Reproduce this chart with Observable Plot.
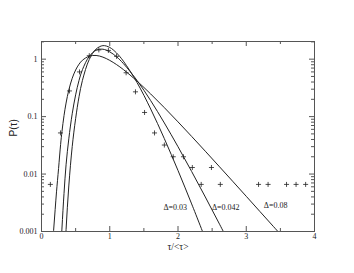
<!DOCTYPE html>
<html>
<head>
<meta charset="utf-8">
<script src="https://cdn.jsdelivr.net/npm/d3@7"></script>
<script src="https://cdn.jsdelivr.net/npm/@observablehq/plot@0.6"></script>
<style>
  html, body { margin: 0; padding: 0; background: #fff; }
</style>
</head>
<body>
<div id="chart"></div>
<script>
// ---- data ----
const curveNames = ["Δ=0.03", "Δ=0.042", "Δ=0.08"];

const curveA_x = [0.33,0.36,0.4,0.45,0.5,0.55,0.6,0.7,0.8,0.9,1.0,1.1,1.2,1.4,1.6,1.8,2.0,2.2,2.4];
const curveA_y = [2.19e-4,1.08e-3,6.2e-3,0.030,0.0922,0.222,0.428,0.99,1.50,1.72,1.60,1.28,0.923,0.391,0.1357,0.0413,0.01153,3.02e-3,7.53e-4];

const curveB_x = [0.28,0.3,0.33,0.36,0.4,0.45,0.5,0.55,0.6,0.7,0.8,0.9,1.0,1.1,1.2,1.4,1.6,1.8,2.0,2.2,2.4,2.6,2.8];
const curveB_y = [3.8e-4,1.15e-3,4.6e-3,0.0145,0.041,0.112,0.2391,0.428,0.657,1.12,1.43,1.49,1.34,1.10,0.838,0.426,0.1897,0.0775,0.0299,0.01108,3.99e-3,1.404e-3,4.86e-4];

const curveC_x = [0.16,0.18,0.2,0.22,0.25,0.28,0.3,0.33,0.36,0.4,0.45,0.5,0.55,0.6,0.7,0.8,0.9,1.0,1.1,1.2,1.4,1.6,1.8,2.0,2.2,2.4,2.6,2.8,3.0,3.2,3.4,3.6];
const curveC_y = [5.6e-4,1.15e-3,2.4e-3,4.9e-3,0.0125,0.0328,0.0551,0.1041,0.1722,0.2895,0.4645,0.6476,0.8177,0.9583,1.127,1.16,1.085,0.9524,0.804,0.659,0.415,0.2477,0.1432,0.0810,0.0452,0.02498,0.01373,7.51e-3,4.10e-3,2.23e-3,1.215e-3,6.61e-4];

const pointsX = [0.13,0.278,0.41,0.557,0.70,0.84,0.98,1.10,1.24,1.377,1.51,1.656,1.80,1.93,2.08,2.21,2.34,2.49,2.62,3.18,3.32,3.59,3.73,3.87];
const pointsY = [0.0066,0.052,0.28,0.6,1.15,1.45,1.42,1.12,0.58,0.27,0.118,0.052,0.032,0.02,0.02,0.013,0.0066,0.013,0.0066,0.0066,0.0066,0.0066,0.0066,0.0066];

const labelX = [1.96, 2.70, 3.43];
const labelY = [0.0026, 0.0026, 0.0028];

const xTicks = [0, 1, 2, 3, 4];
const xMinorTicks = [0.5, 1.5, 2.5, 3.5];
const yTicks = [0.001, 0.01, 0.1, 1];
const yTickLabels = ["0.001", "0.01", "0.1", "1"];
const yMinorTicks = [2e-3,3e-3,4e-3,5e-3,6e-3,7e-3,8e-3,9e-3,
                     2e-2,3e-2,4e-2,5e-2,6e-2,7e-2,8e-2,9e-2,
                     0.2,0.3,0.4,0.5,0.6,0.7,0.8,0.9,2];

// ---- build tables ----
const curves = [
  ...curveA_x.map((x, i) => ({x, y: curveA_y[i], name: curveNames[0]})),
  ...curveB_x.map((x, i) => ({x, y: curveB_y[i], name: curveNames[1]})),
  ...curveC_x.map((x, i) => ({x, y: curveC_y[i], name: curveNames[2]}))
];
const points = pointsX.map((x, i) => ({x, y: pointsY[i]}));
const labels = curveNames.map((t, i) => ({x: labelX[i], y: labelY[i], t}));

const W = 354, H = 273, mL = 41, mR = 40, mT = 41, mB = 42;
const fw = W - mL - mR, fh = H - mT - mB;
const major = 5, minor = 3;
const serif = "Liberation Serif, DejaVu Serif, serif";
const frameColor = "#555";

const chart = Plot.plot({
  width: W, height: H,
  marginLeft: mL, marginRight: mR, marginTop: mT, marginBottom: mB,
  style: {background: "#fff"},
  x: {domain: [0, 4]},
  y: {type: "log", domain: [0.001, 2.03]},
  marks: [
    // tick marks (inward, all four sides)
    Plot.ruleX(xTicks, {x: d => d, insetTop: fh - major, stroke: frameColor}),
    Plot.ruleX(xTicks, {x: d => d, insetBottom: fh - major, stroke: frameColor}),
    Plot.ruleX(xMinorTicks, {x: d => d, insetTop: fh - minor, stroke: frameColor}),
    Plot.ruleX(xMinorTicks, {x: d => d, insetBottom: fh - minor, stroke: frameColor}),
    Plot.ruleY(yTicks, {y: d => d, insetRight: fw - major, stroke: frameColor}),
    Plot.ruleY(yTicks, {y: d => d, insetLeft: fw - major, stroke: frameColor}),
    Plot.ruleY(yMinorTicks, {y: d => d, insetRight: fw - minor, stroke: frameColor, clip: true}),
    Plot.ruleY(yMinorTicks, {y: d => d, insetLeft: fw - minor, stroke: frameColor, clip: true}),
    Plot.frame({stroke: frameColor}),
    // tick labels
    Plot.axisX({ticks: xTicks, tickSize: 0, tickPadding: 2, tickFormat: d => String(d),
      fontFamily: serif, fontSize: 8, fill: "#222", label: null}),
    Plot.axisY({ticks: yTicks, tickSize: 0, tickPadding: 4,
      tickFormat: (d, i) => yTickLabels[yTicks.indexOf(d)],
      fontFamily: serif, fontSize: 8, fill: "#222", label: null}),
    // axis titles
    Plot.text(["P(τ)"], {frameAnchor: "left", dx: -28, rotate: -90, text: d => d,
      fontFamily: "Liberation Sans, Arial, sans-serif", fontSize: 10, fill: "#222"}),
    Plot.text(["τ/<τ>"], {frameAnchor: "bottom", dy: 18.5, text: d => d,
      fontFamily: serif, fontSize: 9.5, fill: "#222"}),
    // curves
    Plot.line(curves, {x: "x", y: "y", z: "name", curve: "catmull-rom",
      stroke: "#222", strokeWidth: 1, clip: true}),
    // data points
    Plot.dot(points, {x: "x", y: "y", symbol: "plus", r: 1.75, stroke: "#222", strokeWidth: 0.8}),
    // curve labels
    Plot.text(labels, {x: "x", y: "y", text: "t", fontFamily: serif, fontSize: 8, fill: "#222"})
  ]
});
document.getElementById("chart").appendChild(chart);
</script>
</body>
</html>
